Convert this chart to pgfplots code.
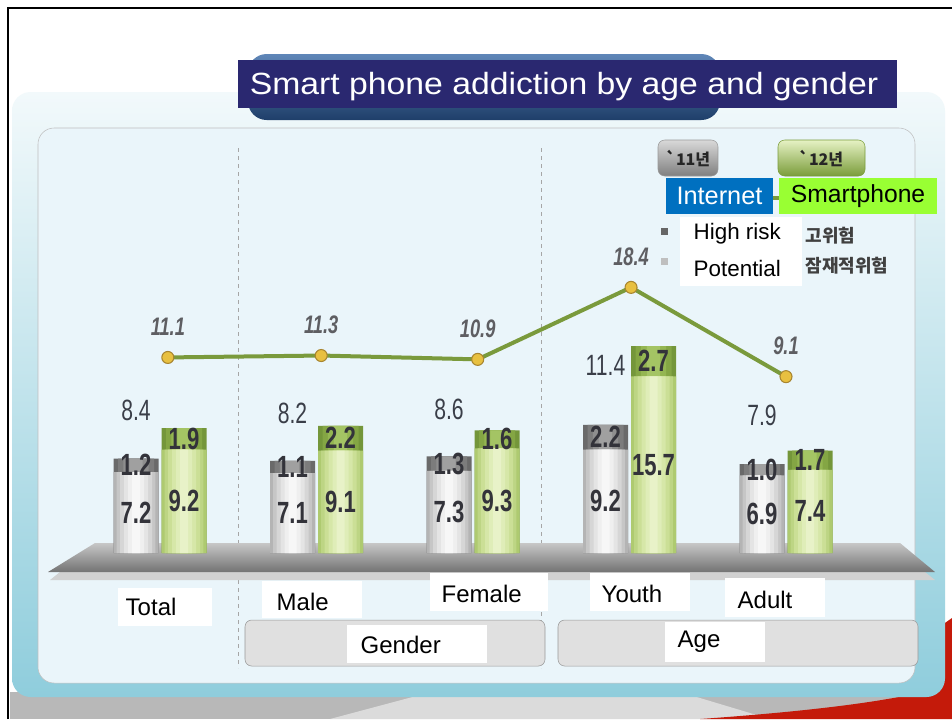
\documentclass[border=0pt]{standalone}
\usepackage{pgfplots}
\usepackage{pgfplotstable}
\pgfplotsset{compat=1.18}
\usepackage{fontspec}
\setmainfont{Liberation Sans}
\newfontfamily\cond[FakeStretch=0.72]{Liberation Sans}
\newfontfamily\wide[FakeStretch=1.1]{Liberation Sans}
\newfontfamily\kr{Noto Sans CJK KR}
\definecolor{navy}{HTML}{2A2870}
\definecolor{inetblue}{HTML}{0070C0}
\definecolor{smartgreen}{HTML}{99FF33}
\definecolor{panel}{HTML}{EAF5FA}
\definecolor{tealA}{HTML}{F2F9FB}
\definecolor{tealB}{HTML}{8FCDDC}
\definecolor{linegreen}{HTML}{7A9A3C}
\definecolor{markfill}{HTML}{E8C040}
\definecolor{markdraw}{HTML}{A88530}
\definecolor{greenA}{HTML}{E6F2C4}
\definecolor{capgrA}{HTML}{7A9C3A}
\definecolor{valtxt}{HTML}{33333A}
\definecolor{toptxt}{HTML}{3A3E48}
\definecolor{linetxt}{HTML}{5E5E62}
\definecolor{pillA}{HTML}{5F86B8}
\definecolor{pillB}{HTML}{1F3F6A}
\definecolor{redc}{HTML}{C41A0A}
% layer colours
\definecolor{gc1}{HTML}{6A6A6A}\definecolor{gc2}{HTML}{7C7C7C}\definecolor{gc3}{HTML}{8E8E8E}\definecolor{gc4}{HTML}{A0A0A0}
\definecolor{gb1}{HTML}{B4B4B4}\definecolor{gb2}{HTML}{C6C6C6}\definecolor{gb3}{HTML}{D6D6D6}\definecolor{gb4}{HTML}{E4E4E4}\definecolor{gb5}{HTML}{EFEFEF}\definecolor{gb6}{HTML}{F7F7F7}
\definecolor{ec1}{HTML}{74963A}\definecolor{ec2}{HTML}{84A644}\definecolor{ec3}{HTML}{94B652}\definecolor{ec4}{HTML}{A4C464}
\definecolor{eb1}{HTML}{AECA70}\definecolor{eb2}{HTML}{BDD584}\definecolor{eb3}{HTML}{CBDF96}\definecolor{eb4}{HTML}{D6E7A8}\definecolor{eb5}{HTML}{DFEDB8}\definecolor{eb6}{HTML}{E8F2C8}
\pgfplotstableread{
i  lx    tot11 pot11 tot12 pot12
0  0.05  8.4   7.2   11.1  9.2
1  1.03  8.2   7.1   11.3  9.1
2  2.03  8.6   7.3   10.9  9.3
3  3.01  11.4  9.2   18.4  15.7
4  4.00  7.9   6.9   9.1   7.4
}\datatab
\newcommand\lay[4]{\addplot[ybar, bar width=#1, bar shift=#2, draw=none, fill=#3] table[x=i, y=#4] {\datatab};}
\begin{document}
\begin{tikzpicture}[x=0.75pt,y=-0.75pt]
\useasboundingbox (0,0) rectangle (952,719);
\fill[white] (0,0) rectangle (952,719);
% bottom band and red shape
\fill[black!28] (10,692) rectangle (952,719);
\fill[black!14] (330,719) -- (420,695) -- (690,695) -- (770,719) -- cycle;
\fill[redc] (700,719) .. controls (800,712) and (890,702) .. (938,688) -- (942,625) -- (952,618) -- (952,719) -- cycle;
% outer panel
\shade[top color=tealA, bottom color=tealB, rounded corners=14pt] (12,92) rectangle (945,697);
% inner panel
\filldraw[fill=panel, draw=black!25, rounded corners=12pt] (38,128) rectangle (915,683);
% black frame
\draw[black, line width=2.2pt] (8,719) -- (8,8) -- (952,8);
% title
\shade[rounded corners=14pt, top color=pillA, bottom color=pillB] (248,54) rectangle (720,120);
\fill[navy] (238,60) rectangle (897,108);
\node[white, font=\wide\fontsize{23}{24}\selectfont] at (564,87) {Smart phone addiction by age and gender};
% separators
\draw[black!35, dashed, line width=0.6pt] (238,148) -- (238,668);
\draw[black!35, dashed, line width=0.6pt] (541,148) -- (541,668);
% shelf
\fill[black!18] (60,572) -- (925,572) -- (935,580) -- (50,580) -- cycle;
\shade[top color=black!22, bottom color=black!55] (95,543) -- (900,543) -- (935,572) -- (48,572) -- cycle;
% group boxes
\filldraw[fill=black!12, draw=black!40, rounded corners=5pt] (245,620) rectangle (545,666);
\filldraw[fill=black!12, draw=black!40, rounded corners=5pt] (558,620) rectangle (918,666);
% category labels
\tikzset{cat/.style={anchor=west, font=\fontsize{18}{18}\selectfont, text=black}}
\fill[white] (118,588) rectangle (212,626);
\node[cat] at (121,607) {Total};
\fill[white] (262,581) rectangle (362,618);
\node[cat] at (272,602) {Male};
\fill[white] (430,573) rectangle (548,611);
\node[cat] at (437,594) {Female};
\fill[white] (590,573) rectangle (690,611);
\node[cat] at (597,594) {Youth};
\fill[white] (725,578) rectangle (825,617);
\node[cat] at (733,600) {Adult};
\fill[white] (347,625) rectangle (487,663);
\node[cat] at (356,645) {Gender};
\fill[white] (665,622) rectangle (765,662);
\node[cat] at (673,642) {Age};
% legend
\shade[rounded corners=5pt, top color=black!15, bottom color=black!50, draw=black!40] (658,140) rectangle (718,176);
\node[font=\kr\bfseries\fontsize{12}{12}\selectfont, text=black!85] at (688,159) {`11년};
\shade[rounded corners=5pt, top color=greenA, bottom color=capgrA, draw=capgrA] (778,140) rectangle (865,176);
\node[font=\kr\bfseries\fontsize{12}{12}\selectfont, text=black!85] at (821,159) {`12년};
\draw[linegreen, line width=2.5pt] (765,198) -- (790,198);
\fill[inetblue] (666,178) rectangle (773,214);
\node[white, font=\fontsize{19}{19}\selectfont] at (719.5,196) {Internet};
\fill[smartgreen] (779,178) rectangle (937,214);
\node[black, font=\fontsize{18.5}{19}\selectfont] at (858,196) {Smartphone};
\fill[black!60] (661,228) rectangle (668,235);
\fill[black!25] (661,258) rectangle (668,265);
\node[anchor=west, font=\kr\bfseries\fontsize{13.5}{14}\selectfont, text=black!75] at (801,236) {고위험};
\node[anchor=west, font=\kr\bfseries\fontsize{13.5}{14}\selectfont, text=black!75] at (801,266) {잠재적위험};
\fill[white] (680,217) rectangle (802,286);
\node[anchor=west, font=\fontsize{16.8}{17}\selectfont] at (689,234) {High risk};
\node[anchor=west, font=\fontsize{16.8}{17}\selectfont] at (689,268) {Potential};
% axes
\coordinate (AX) at (50.45,553);
\begin{axis}[at={(AX)}, anchor=south west, scale only axis, width=633.825pt, height=204.75pt,
  xmin=-0.7, xmax=4.7, ymin=0, ymax=24.2667, hide axis, clip=false]
% 2011 (Internet): total (high-risk cap), then potential over it
\lay{33.75pt}{-18pt}{gc1}{tot11}
\lay{27pt}{-18pt}{gc2}{tot11}
\lay{19pt}{-18pt}{gc3}{tot11}
\lay{10pt}{-18pt}{gc4}{tot11}
\lay{33.75pt}{-18pt}{gb1}{pot11}
\lay{29pt}{-18pt}{gb2}{pot11}
\lay{24pt}{-18pt}{gb3}{pot11}
\lay{18pt}{-18pt}{gb4}{pot11}
\lay{12pt}{-18pt}{gb5}{pot11}
\lay{6pt}{-18pt}{gb6}{pot11}
% 2012 (Smartphone)
\lay{33.75pt}{18pt}{ec1}{tot12}
\lay{27pt}{18pt}{ec2}{tot12}
\lay{19pt}{18pt}{ec3}{tot12}
\lay{10pt}{18pt}{ec4}{tot12}
\lay{33.75pt}{18pt}{eb1}{pot12}
\lay{29pt}{18pt}{eb2}{pot12}
\lay{24pt}{18pt}{eb3}{pot12}
\lay{18pt}{18pt}{eb4}{pot12}
\lay{12pt}{18pt}{eb5}{pot12}
\lay{6pt}{18pt}{eb6}{pot12}
% value labels 2011
\tikzset{vin/.style={font=\cond\bfseries\fontsize{23}{23}\selectfont, text=valtxt},
         vtop/.style={font=\cond\fontsize{22}{22}\selectfont, text=toptxt}}
\node[vin, xshift=-18pt] at (axis cs:0,3.6) {7.2};
\node[vin, xshift=-18pt] at (axis cs:1,3.55) {7.1};
\node[vin, xshift=-18pt] at (axis cs:2,3.65) {7.3};
\node[vin, xshift=-18pt] at (axis cs:3,4.6) {9.2};
\node[vin, xshift=-18pt] at (axis cs:4,3.45) {6.9};
\node[vin, xshift=-18pt] at (axis cs:0,7.8) {1.2};
\node[vin, xshift=-18pt] at (axis cs:1,7.65) {1.1};
\node[vin, xshift=-18pt] at (axis cs:2,7.95) {1.3};
\node[vin, xshift=-18pt] at (axis cs:3,10.3) {2.2};
\node[vin, xshift=-18pt] at (axis cs:4,7.4) {1.0};
\node[vtop, xshift=-18pt] at (axis cs:0,12.7) {8.4};
\node[vtop, xshift=-18pt] at (axis cs:1,12.44) {8.2};
\node[vtop, xshift=-18pt] at (axis cs:2,12.8) {8.6};
\node[vtop, xshift=-18pt] at (axis cs:3,16.7) {11.4};
\node[vtop, xshift=-18pt] at (axis cs:4,12.27) {7.9};
% value labels 2012
\node[vin, xshift=18pt] at (axis cs:0,4.6) {9.2};
\node[vin, xshift=18pt] at (axis cs:1,4.55) {9.1};
\node[vin, xshift=18pt] at (axis cs:2,4.65) {9.3};
\node[vin, xshift=18pt] at (axis cs:3,7.85) {15.7};
\node[vin, xshift=18pt] at (axis cs:4,3.7) {7.4};
\node[vin, xshift=18pt] at (axis cs:0,10.15) {1.9};
\node[vin, xshift=18pt] at (axis cs:1,10.2) {2.2};
\node[vin, xshift=18pt] at (axis cs:2,10.1) {1.6};
\node[vin, xshift=18pt] at (axis cs:3,17.05) {2.7};
\node[vin, xshift=18pt] at (axis cs:4,8.25) {1.7};
\end{axis}
\begin{axis}[at={(AX)}, anchor=south west, scale only axis, width=633.825pt, height=204.75pt,
  xmin=-0.7, xmax=4.7, ymin=-9.2708, ymax=19.1667, hide axis, clip=false]
\addplot[linegreen, line width=3pt, mark=*, mark size=4.5pt,
  mark options={fill=markfill, draw=markdraw, line width=0.8pt},
  nodes near coords, point meta=explicit symbolic,
  every node near coord/.style={anchor=center, yshift=23pt, font=\cond\bfseries\itshape\fontsize{19}{19}\selectfont, text=linetxt}]
  table[x=lx, y=tot12, meta=tot12] {\datatab};
\end{axis}
\end{tikzpicture}
\end{document}
